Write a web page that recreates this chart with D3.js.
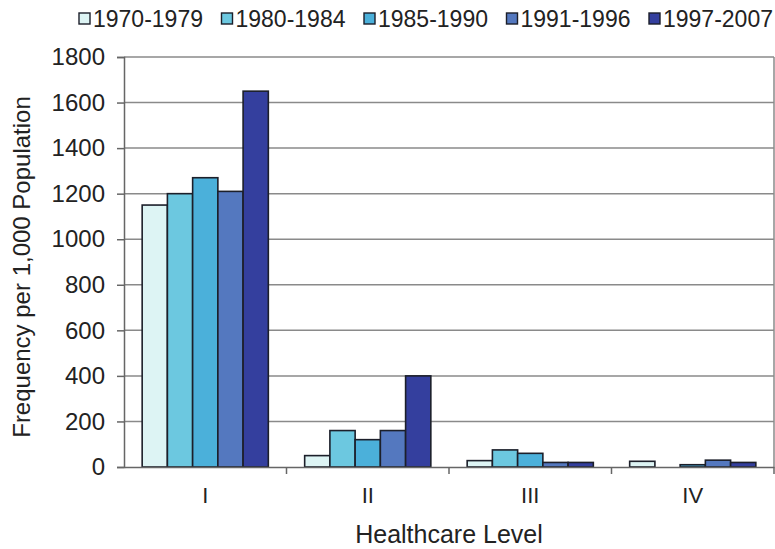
<!DOCTYPE html>
<html>
<head>
<meta charset="utf-8">
<script src="https://cdn.jsdelivr.net/npm/d3@7"></script>
<style>
  body { margin: 0; background: #fff; }
  text { font-family: "Liberation Sans", Arial, sans-serif; fill: #222; }
</style>
</head>
<body>
<div id="chart"></div>
<script>
const WIDTH = 775;
const HEIGHT = 549;

const categories = ['I', 'II', 'III', 'IV'];
const periods = ['1970-1979', '1980-1984', '1985-1990', '1991-1996', '1997-2007'];
const colours = ['#ddf4f4', '#6cc8e0', '#4bb0da', '#5478bf', '#343f9e'];

// frequency per 1,000 population, one array per period (I, II, III, IV)
const v1970 = [1150, 50, 28, 25];
const v1980 = [1200, 160, 75, 0];
const v1985 = [1270, 120, 60, 10];
const v1991 = [1210, 160, 20, 30];
const v1997 = [1650, 400, 20, 20];

const yTicks = [0, 200, 400, 600, 800, 1000, 1200, 1400, 1600, 1800];

const seriesValues = [v1970, v1980, v1985, v1991, v1997];
const rows = categories.map((c, i) => ({
  cat: c,
  values: periods.map((p, j) => ({ period: p, idx: j, value: seriesValues[j][i] }))
}));

const margin = { top: 57, right: 1, bottom: 82, left: 124 };
const innerW = WIDTH - margin.left - margin.right;
const innerH = HEIGHT - margin.top - margin.bottom;

const svg = d3.select('#chart')
  .append('svg')
  .attr('width', WIDTH)
  .attr('height', HEIGHT);

const g = svg.append('g')
  .attr('transform', `translate(${margin.left},${margin.top})`);

const x0 = d3.scaleBand().domain(categories).range([0, innerW]).padding(0);
const x1 = d3.scaleBand().domain(periods).range([0, x0.bandwidth()])
  .paddingInner(0).paddingOuter(0.72);
const y = d3.scaleLinear().domain([0, 1800]).range([innerH, 0]);

// gridlines
g.append('g')
  .selectAll('line')
  .data(yTicks.filter(d => d > 0))
  .join('line')
  .attr('x1', 0)
  .attr('x2', innerW)
  .attr('y1', d => y(d))
  .attr('y2', d => y(d))
  .attr('stroke', '#8a8a8a')
  .attr('stroke-width', 1.5);

// right border
g.append('line')
  .attr('x1', innerW).attr('x2', innerW)
  .attr('y1', 0).attr('y2', innerH)
  .attr('stroke', '#8a8a8a')
  .attr('stroke-width', 1.5);

// bars
g.append('g')
  .selectAll('g')
  .data(rows)
  .join('g')
  .attr('transform', d => `translate(${x0(d.cat)},0)`)
  .selectAll('rect')
  .data(d => d.values.filter(v => v.value > 0))
  .join('rect')
  .attr('x', d => x1(d.period))
  .attr('y', d => y(d.value))
  .attr('width', x1.bandwidth())
  .attr('height', d => y(0) - y(d.value))
  .attr('fill', d => colours[d.idx])
  .attr('stroke', '#1c1f2a')
  .attr('stroke-width', 1.6);

// y axis
const yAxis = g.append('g')
  .call(d3.axisLeft(y).tickValues(yTicks).tickSize(7).tickPadding(12).tickFormat(d3.format('d')));
yAxis.select('.domain').attr('stroke', '#666').attr('stroke-width', 1.5);
yAxis.selectAll('.tick line').attr('stroke', '#666').attr('stroke-width', 1.5);
yAxis.selectAll('.tick text')
  .attr('font-size', 24)
  .attr('font-family', '"Liberation Sans", Arial, sans-serif')
  .attr('fill', '#222');

// x axis
const xAxis = g.append('g')
  .attr('transform', `translate(0,${innerH})`)
  .call(d3.axisBottom(x0).tickSize(0).tickPadding(20));
xAxis.select('.domain').attr('stroke', '#666').attr('stroke-width', 1.5);
xAxis.selectAll('.tick text')
  .attr('font-size', 22)
  .attr('font-family', '"Liberation Sans", Arial, sans-serif')
  .attr('fill', '#222');

// category separators
xAxis.append('g')
  .selectAll('line')
  .data(categories.slice(1).concat(['end']))
  .join('line')
  .attr('x1', d => d === 'end' ? innerW : x0(d))
  .attr('x2', d => d === 'end' ? innerW : x0(d))
  .attr('y1', 0)
  .attr('y2', 7)
  .attr('stroke', '#666')
  .attr('stroke-width', 1.5);

// axis titles
svg.append('text')
  .attr('x', margin.left + innerW / 2)
  .attr('y', 543)
  .attr('text-anchor', 'middle')
  .attr('font-size', 25)
  .text('Healthcare Level');

svg.append('text')
  .attr('transform', `translate(30,${margin.top + innerH / 2 + 5}) rotate(-90)`)
  .attr('text-anchor', 'middle')
  .attr('font-size', 24)
  .text('Frequency per 1,000 Population');

// legend
const legend = svg.append('g')
  .selectAll('g')
  .data(periods)
  .join('g')
  .attr('transform', (d, i) => `translate(${79 + i * 142.5},13)`);

legend.append('rect')
  .attr('width', 11)
  .attr('height', 11)
  .attr('fill', (d, i) => colours[i])
  .attr('stroke', '#1c1f2a')
  .attr('stroke-width', 1.4);

legend.append('text')
  .attr('x', 14)
  .attr('y', 14)
  .attr('font-size', 23)
  .text(d => d);
</script>
</body>
</html>
